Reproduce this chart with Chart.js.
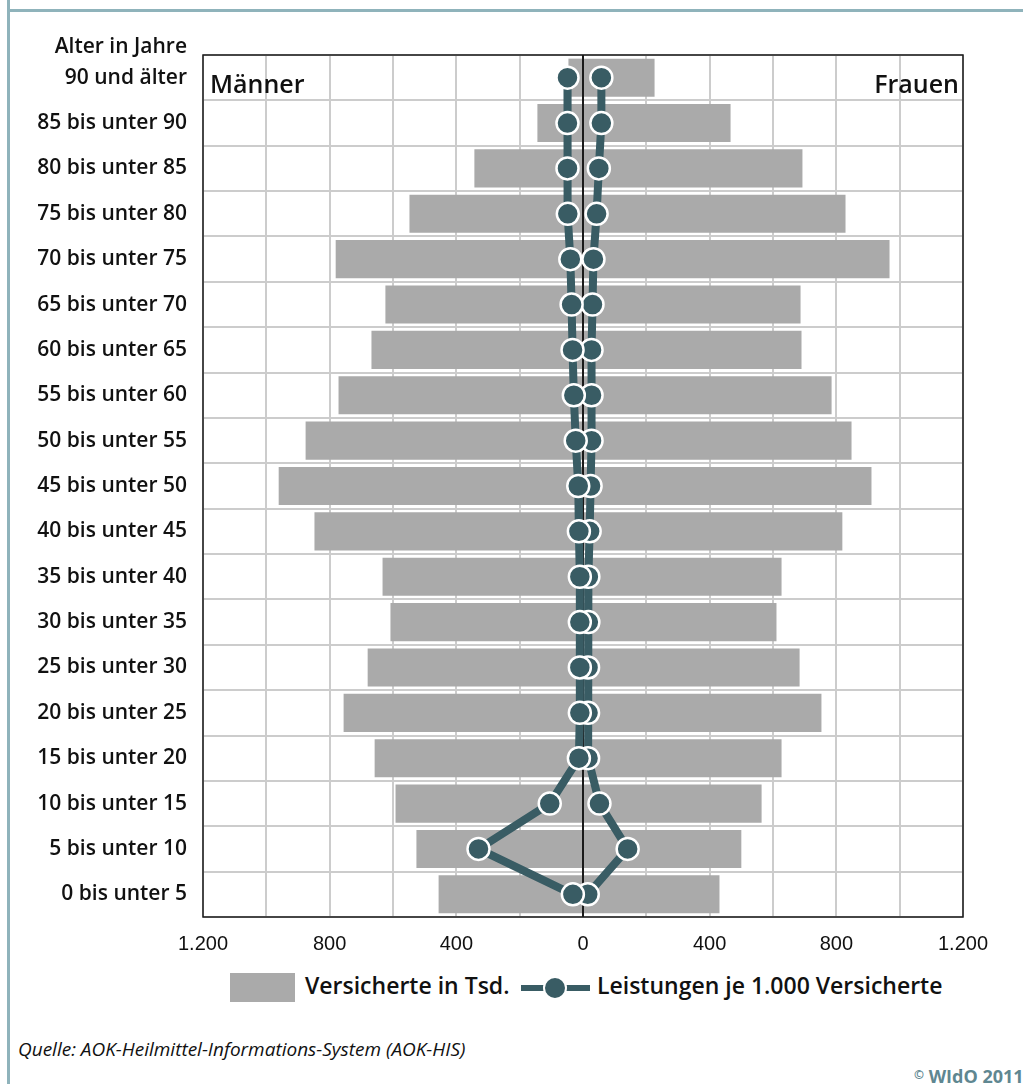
<!DOCTYPE html>
<html>
<head>
<meta charset="utf-8">
<script src="https://cdn.jsdelivr.net/npm/chart.js@4.4.1/dist/chart.umd.min.js"></script>
<style>
  body { margin: 0; background: #fff; font-family: "Open Sans", sans-serif; }
  #wrap { position: relative; width: 1023px; height: 1084px; overflow: hidden; }
  #chart { position: absolute; left: 0; top: 0; }
  .frameTop { position: absolute; left: 7px; top: 9px; right: 0; height: 3px; background: #8fb3bb; }
  .frameLeft { position: absolute; left: 7px; top: 0; bottom: 0; width: 3px; background: #8fb3bb; }
  .txt { position: absolute; white-space: nowrap; color: #111; }
</style>
</head>
<body>
<div id="wrap">
  <div class="frameTop"></div>
  <div class="frameLeft"></div>
  <canvas id="chart" width="1023" height="965"></canvas>
  <div class="txt" style="right:836px; top:31px; font-size:21px; font-weight:600;">Alter in Jahre</div>
  <div class="txt" style="left:210px; top:66px; font-size:25px; font-weight:600;">Männer</div>
  <div class="txt" style="right:64px; top:66px; font-size:25px; font-weight:600;">Frauen</div>
  <div id="legend" class="txt" style="left:230px; top:970px; height:34px; font-size:23px; font-weight:600;">
    <span style="position:absolute; left:0; top:3px; width:65px; height:29px; background:#aaaaaa;"></span>
    <span style="position:absolute; left:75px; top:-1px;">Versicherte in Tsd.</span>
    <span style="position:absolute; left:291px; top:15px; width:69px; height:6px; background:#395c64;"></span>
    <span style="position:absolute; left:313px; top:6px; width:20px; height:20px; border-radius:50%; background:#395c64; border:2px solid #fff;"></span>
    <span style="position:absolute; left:367px; top:-1px;">Leistungen je 1.000 Versicherte</span>
  </div>
  <div class="txt" style="left:18px; top:1036px; font-size:19px; font-style:italic;">Quelle: AOK-Heilmittel-Informations-System (AOK-HIS)</div>
  <div class="txt" style="left:914px; top:1064px; font-size:18px; font-weight:700; color:#5f8791;"><span style="font-size:12px; vertical-align:4px;">©</span> WIdO 2011</div>
</div>
<script>
const ageGroups = [
  '90 und älter', '85 bis unter 90', '80 bis unter 85', '75 bis unter 80',
  '70 bis unter 75', '65 bis unter 70', '60 bis unter 65', '55 bis unter 60',
  '50 bis unter 55', '45 bis unter 50', '40 bis unter 45', '35 bis unter 40',
  '30 bis unter 35', '25 bis unter 30', '20 bis unter 25', '15 bis unter 20',
  '10 bis unter 15', '5 bis unter 10', '0 bis unter 5'
];

// Versicherte in Tsd.
const insuredMen =   [46, 144, 343, 548, 781, 624, 668, 772, 876, 961, 848, 633, 608, 680, 756, 658, 592, 526, 456];
const insuredWomen = [226, 466, 693, 829, 968, 687, 690, 785, 848, 911, 819, 627, 611, 684, 753, 627, 564, 500, 431];

// Leistungen je 1.000 Versicherte
const servicesMen =   [49, 49, 49, 48, 40, 36, 33, 29, 23, 15, 13, 10, 10, 10, 10, 13, 105, 330, 32];
const servicesWomen = [58, 58, 50, 43, 33, 30, 27, 27, 27, 24, 21, 17, 17, 16, 16, 16, 52, 141, 15];

const xTicks = [-1200, -800, -400, 0, 400, 800, 1200];

const barGrey = '#aaaaaa';
const lineTeal = '#395c64';

function fmt(v) {
  return Math.abs(v).toLocaleString('de-DE');
}

const frameAndZero = {
  id: 'frameAndZero',
  afterDatasetDraw(chart, args) {
    if (args.index !== 2) return;
    const ctx = chart.ctx;
    const x0 = chart.scales.x.getPixelForValue(0);
    ctx.save();
    ctx.strokeStyle = '#1a1a1a';
    ctx.lineWidth = 2;
    ctx.beginPath();
    ctx.moveTo(x0, chart.chartArea.top);
    ctx.lineTo(x0, chart.chartArea.bottom);
    ctx.stroke();
    ctx.restore();
  },
  afterDraw(chart) {
    const a = chart.chartArea;
    const ctx = chart.ctx;
    ctx.save();
    ctx.strokeStyle = '#1a1a1a';
    ctx.lineWidth = 1.5;
    ctx.strokeRect(a.left, a.top, a.right - a.left, a.bottom - a.top);
    ctx.restore();
  }
};

const lineStyle = {
  type: 'line',
  borderColor: lineTeal,
  borderWidth: 8,
  pointRadius: 11,
  pointHoverRadius: 11,
  pointBackgroundColor: lineTeal,
  pointBorderColor: '#ffffff',
  pointBorderWidth: 2.5,
  order: 0
};

new Chart(document.getElementById('chart'), {
  type: 'bar',
  data: {
    labels: ageGroups,
    datasets: [
      Object.assign({ label: 'Leistungen Männer', data: servicesMen.map(v => -v) }, lineStyle),
      Object.assign({ label: 'Leistungen Frauen', data: servicesWomen }, lineStyle),
      { label: 'Versicherte Männer', data: insuredMen.map(v => -v), backgroundColor: barGrey,
        grouped: false, barPercentage: 0.84, categoryPercentage: 1, order: 1 },
      { label: 'Versicherte Frauen', data: insuredWomen, backgroundColor: barGrey,
        grouped: false, barPercentage: 0.84, categoryPercentage: 1, order: 1 }
    ]
  },
  options: {
    indexAxis: 'y',
    responsive: false,
    animation: false,
    layout: { padding: { left: 10, right: 60, top: 55, bottom: 0 } },
    plugins: {
      legend: { display: false },
      tooltip: { enabled: false }
    },
    scales: {
      x: {
        min: -1200,
        max: 1200,
        afterFit(scale) { scale.height = 48; },
        afterBuildTicks(scale) {
          const t = [];
          for (let v = -1200; v <= 1200; v += 200) t.push({ value: v });
          scale.ticks = t;
        },
        grid: {
          color: ctx => ctx.tick && ctx.tick.value === 0 ? 'rgba(0,0,0,0)' : '#cccccc',
          lineWidth: 2,
          drawTicks: false
        },
        border: { display: false },
        ticks: {
          padding: 15,
          color: '#111',
          autoSkip: false,
          maxRotation: 0,
          font: { family: '"Liberation Sans Narrow", "Liberation Sans", Arial', size: 20 },
          callback: v => xTicks.includes(v) ? fmt(v) : ''
        }
      },
      y: {
        afterFit(scale) { scale.width = 193; },
        grid: { color: '#cccccc', lineWidth: 2, drawTicks: false, offset: true },
        border: { display: false },
        ticks: {
          padding: 16,
          color: '#111',
          font: { family: '"Open Sans"', size: 21, weight: '600' }
        }
      }
    }
  },
  plugins: [frameAndZero]
});
</script>
</body>
</html>
